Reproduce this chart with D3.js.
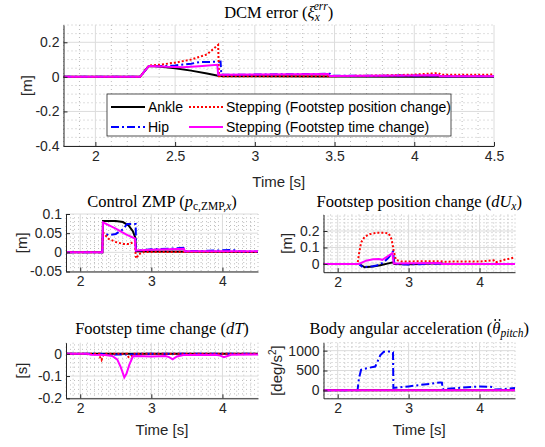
<!DOCTYPE html>
<html>
<head>
<meta charset="utf-8">
<script src="https://cdn.jsdelivr.net/npm/d3@7"></script>
<style>
body { margin: 0; background: #fff; }
svg { display: block; }
</style>
</head>
<body>
<div id="chart"></div>
<script>
// series names (legend)
var seriesNames = ["Ankle", "Hip", "Stepping (Footstep position change)", "Stepping (Footstep time change)"];

// tick values
var timeTicksTop = [2, 2.5, 3, 3.5, 4, 4.5];
var timeTicksSmall = [2, 3, 4];
var dcmTicks = [-0.4, -0.2, 0, 0.2];
var zmpTicks = [-0.05, 0, 0.05, 0.1];
var duTicks = [0, 0.1, 0.2];
var dtTicks = [-0.2, -0.1, 0];
var accTicks = [0, 500, 1000];

// DCM error [m]  ([time, value])
var dcmAnkle = [[1.8,0],[2.28,0],[2.335,0.063],[2.4,0.06],[2.5,0.05],[2.6,0.036],[2.7,0.02],[2.77,0.006],[2.8,0.004],[3.0,0.003],[3.5,0.002],[4.0,0.001],[4.5,0.001]];
var dcmHip = [[1.8,0],[2.28,0],[2.335,0.063],[2.4,0.062],[2.5,0.066],[2.6,0.076],[2.65,0.085],[2.7,0.086],[2.785,0.088],[2.79,0.012],[3.0,0.013],[3.2,0.015],[3.47,0.018],[3.48,0.006],[3.8,0.007],[4.15,0.008],[4.16,0.004],[4.5,0.004]];
var dcmStepPos = [[1.8,0],[2.28,0],[2.335,0.065],[2.4,0.07],[2.5,0.082],[2.6,0.1],[2.7,0.13],[2.77,0.185],[2.775,0.004],[3.0,0.004],[3.5,0.004],[3.8,0.008],[4.0,0.013],[4.15,0.022],[4.17,0.012],[4.5,0.013]];
var dcmStepTime = [[1.8,0],[2.28,0],[2.335,0.063],[2.45,0.058],[2.55,0.056],[2.65,0.062],[2.765,0.07],[2.77,0.012],[3.0,0.014],[3.46,0.017],[3.47,0.005],[4.0,0.008],[4.15,0.01],[4.16,0.004],[4.5,0.004]];

// Control ZMP [m]
var zmpAnkle = [[1.8,0],[2.31,0],[2.32,0.082],[2.5,0.082],[2.6,0.079],[2.68,0.07],[2.74,0.055],[2.775,0.038],[2.785,0.003],[3.0,0.002],[4.5,0.001]];
var zmpHip = [[1.8,0],[2.31,0],[2.32,0.05],[2.4,0.045],[2.5,0.048],[2.6,0.06],[2.66,0.074],[2.78,0.074],[2.785,0.004],[3.0,0.008],[3.3,0.01],[3.45,0.012],[3.47,0.003],[3.8,0.004],[4.1,0.006],[4.2,0.005],[4.25,0.002],[4.5,0.002]];
var zmpStepPos = [[1.8,0],[2.31,0],[2.32,0.052],[2.4,0.035],[2.5,0.027],[2.6,0.022],[2.7,0.022],[2.77,0.03],[2.78,-0.01],[2.79,-0.016],[2.82,-0.005],[2.9,0.001],[4.5,0.001]];
var zmpStepTime = [[1.8,0],[2.31,0],[2.32,0.078],[2.5,0.062],[2.65,0.046],[2.77,0.036],[2.78,0.005],[3.0,0.007],[3.46,0.009],[3.47,0.003],[4.5,0.003]];

// Footstep position change dU_x [m]
var duAnkle = [[1.8,0],[2.3,0],[2.38,-0.02],[2.5,-0.016],[2.6,-0.008],[2.7,0.002],[2.78,0.01],[2.8,0],[3.0,-0.002],[3.45,0.004],[3.5,0],[4.5,0]];
var duHip = [[1.8,0],[2.3,0],[2.35,-0.018],[2.45,-0.017],[2.55,-0.01],[2.65,0.01],[2.72,0.04],[2.78,0.075],[2.8,0],[3.0,-0.003],[3.45,0.003],[3.5,0],[4.5,0]];
var duStepPos = [[1.8,0],[2.28,0],[2.3,0.06],[2.33,0.13],[2.38,0.165],[2.45,0.18],[2.55,0.19],[2.65,0.19],[2.72,0.185],[2.76,0.15],[2.79,0.08],[2.82,0.025],[2.9,0.015],[3.45,0.017],[3.5,0.014],[4.0,0.015],[4.2,0.022],[4.23,0.01],[4.35,0.025],[4.5,0.04]];
var duStepTime = [[1.8,0],[2.3,0],[2.4,0.02],[2.5,0.028],[2.58,0.03],[2.63,0.025],[2.7,0.045],[2.77,0.065],[2.79,0.003],[3.45,0.006],[3.47,0],[4.5,0]];

// Footstep time change dT [s]
var dtAnkle = [[1.8,0],[4.5,0]];
var dtHip = [[1.8,0],[2.3,0],[2.32,-0.003],[2.78,-0.003],[2.8,0],[4.5,0]];
var dtStepPos = [[1.8,0],[2.27,0],[2.28,-0.015],[2.3,-0.028],[2.32,-0.01],[2.34,0],[2.66,0],[2.68,-0.015],[2.72,-0.012],[2.74,0],[4.5,0]];
var dtStepTime = [[1.8,0],[2.1,0],[2.15,-0.004],[2.35,-0.005],[2.45,-0.01],[2.52,-0.025],[2.57,-0.06],[2.62,-0.106],[2.65,-0.09],[2.69,-0.05],[2.74,-0.012],[2.8,-0.01],[3.0,-0.012],[3.2,-0.01],[3.25,-0.015],[3.3,-0.025],[3.36,-0.012],[3.45,-0.005],[3.9,-0.004],[3.97,-0.008],[4.02,-0.015],[4.07,-0.01],[4.12,-0.004],[4.5,-0.003]];

// Body angular acceleration [deg/s^2]
var accAnkle = [[1.8,0],[4.5,0]];
var accHip = [[1.8,0],[2.28,0],[2.3,300],[2.33,520],[2.42,560],[2.53,600],[2.6,880],[2.65,970],[2.75,980],[2.78,960],[2.785,60],[3.0,100],[3.3,165],[3.45,200],[3.47,195],[3.48,30],[3.7,60],[4.0,100],[4.15,90],[4.19,80],[4.21,20],[4.4,40],[4.5,60]];
var accStepPos = [[1.8,0],[4.5,0]];
var accStepTime = [[1.8,0],[4.5,0]];

var styles = [
  {color: "#000000", dash: null},
  {color: "#0000ff", dash: "8,3,2,3"},
  {color: "#ff0000", dash: "2,2"},
  {color: "#ff00ff", dash: null}
];

var axisColor = "#262626";
var sansFont = "'Liberation Sans', Arial, sans-serif";
var serifFont = "'Liberation Serif', 'DejaVu Serif', serif";
var subSize = "11.5px";

var svg = d3.select("#chart").append("svg")
    .attr("width", 545)
    .attr("height", 447);

var clipId = 0;

function drawPanel(p) {
  var x = d3.scaleLinear().domain([1.8, 4.5]).range([p.left, p.right]);
  var y = d3.scaleLinear().domain(p.yDomain).range([p.bottom, p.top]);
  var g = svg.append("g");

  // minor grid
  var xMinor = d3.range(1.8, 4.5001, 0.1).filter(function(v) {
    return p.xTicks.every(function(t) { return Math.abs(t - v) > 1e-6; });
  });
  var yMinor = d3.range(p.yDomain[0], p.yDomain[1] + p.yMinor * 0.01, p.yMinor).filter(function(v) {
    return p.yTicks.every(function(t) { return Math.abs(t - v) > 1e-9 * Math.max(1, Math.abs(t)); });
  });
  g.selectAll(".mx").data(xMinor).enter().append("line")
    .attr("x1", d => x(d)).attr("x2", d => x(d))
    .attr("y1", p.top).attr("y2", p.bottom)
    .attr("stroke", "#bdbdbd").attr("stroke-width", 1).attr("stroke-dasharray", "1,3");
  g.selectAll(".my").data(yMinor).enter().append("line")
    .attr("x1", p.left).attr("x2", p.right)
    .attr("y1", d => y(d)).attr("y2", d => y(d))
    .attr("stroke", "#bdbdbd").attr("stroke-width", 1).attr("stroke-dasharray", "1,3");

  // major grid
  g.selectAll(".gx").data(p.xTicks).enter().append("line")
    .attr("x1", d => x(d)).attr("x2", d => x(d))
    .attr("y1", p.top).attr("y2", p.bottom)
    .attr("stroke", "#dcdcdc").attr("stroke-width", 1);
  g.selectAll(".gy").data(p.yTicks).enter().append("line")
    .attr("x1", p.left).attr("x2", p.right)
    .attr("y1", d => y(d)).attr("y2", d => y(d))
    .attr("stroke", "#dcdcdc").attr("stroke-width", 1);

  // lines
  clipId++;
  svg.append("clipPath").attr("id", "clip" + clipId).append("rect")
    .attr("x", p.left).attr("y", p.top)
    .attr("width", p.right - p.left).attr("height", p.bottom - p.top);
  var line = d3.line().x(d => x(d[0])).y(d => y(d[1]));
  var lg = g.append("g").attr("clip-path", "url(#clip" + clipId + ")");
  p.series.forEach(function(s, i) {
    lg.append("path").datum(s)
      .attr("d", line)
      .attr("fill", "none")
      .attr("stroke", styles[i].color)
      .attr("stroke-width", 2)
      .attr("stroke-dasharray", styles[i].dash);
  });

  // axes
  var xAxis = d3.axisBottom(x).tickValues(p.xTicks).tickSize(-4).tickSizeOuter(0).tickPadding(5)
    .tickFormat(d => String(d));
  var yAxis = d3.axisLeft(y).tickValues(p.yTicks).tickSize(-4).tickSizeOuter(0).tickPadding(4)
    .tickFormat(d => String(d));
  var ax = g.append("g").attr("transform", "translate(0," + p.bottom + ")").call(xAxis);
  var ay = g.append("g").attr("transform", "translate(" + p.left + ",0)").call(yAxis);
  [ax, ay].forEach(function(a) {
    a.select(".domain").attr("stroke", axisColor);
    a.selectAll(".tick line").attr("stroke", axisColor);
    a.selectAll("text").attr("fill", axisColor)
      .style("font-family", sansFont).style("font-size", "14px");
  });

  // y label
  var yl = svg.append("text")
    .attr("transform", "translate(" + p.yLabelX + "," + ((p.top + p.bottom) / 2) + ") rotate(-90)")
    .attr("text-anchor", "middle")
    .attr("fill", axisColor)
    .style("font-family", sansFont).style("font-size", "15px");
  p.yLabel(yl);

  // x label
  if (p.xLabelY) {
    svg.append("text")
      .attr("x", (p.left + p.right) / 2).attr("y", p.xLabelY)
      .attr("text-anchor", "middle")
      .attr("fill", axisColor)
      .style("font-family", sansFont).style("font-size", "15px")
      .text("Time [s]");
  }

  // title
  var t = svg.append("text")
    .attr("x", (p.left + p.right) / 2).attr("y", p.titleY)
    .attr("text-anchor", "middle")
    .attr("fill", "#000")
    .style("font-family", serifFont).style("font-size", "16.5px");
  p.title(t);
}

function part(sel, txt, opts) {
  opts = opts || {};
  var s = sel.append("tspan").text(txt);
  if (opts.italic) s.style("font-style", "italic");
  if (opts.size) s.style("font-size", opts.size);
  if (opts.dy) s.attr("dy", opts.dy);
  return s;
}

// Top: DCM error
drawPanel({
  left: 63.5, right: 494, top: 25, bottom: 146,
  yDomain: [-0.4, 0.3], yTicks: dcmTicks, yMinor: 0.05, xTicks: timeTicksTop,
  series: [dcmAnkle, dcmHip, dcmStepPos, dcmStepTime],
  yLabelX: 32, xLabelY: 187, titleY: 18,
  yLabel: function(t) { t.text("[m]"); },
  title: function(t) {
    part(t, "DCM error (");
    part(t, "ξ", {italic: true});
    part(t, "x", {italic: true, size: subSize, dy: "3"});
    part(t, "err", {italic: true, size: subSize, dy: "-11"}).attr("dx", "-6");
    part(t, ")", {dy: "8"});
  }
});

// Control ZMP
drawPanel({
  left: 66, right: 258, top: 214, bottom: 271.5,
  yDomain: [-0.05, 0.1], yTicks: zmpTicks, yMinor: 0.01, xTicks: timeTicksSmall,
  series: [zmpAnkle, zmpHip, zmpStepPos, zmpStepTime],
  yLabelX: 27, xLabelY: null, titleY: 207,
  yLabel: function(t) { t.text("[m]"); },
  title: function(t) {
    part(t, "Control ZMP (");
    part(t, "p", {italic: true});
    part(t, "c,ZMP,", {size: subSize, dy: "3"});
    part(t, "x", {italic: true, size: subSize});
    part(t, ")", {dy: "-3"});
  }
});

// Footstep position change
drawPanel({
  left: 323.5, right: 515, top: 214.5, bottom: 272.2,
  yDomain: [-0.05, 0.3], yTicks: duTicks, yMinor: 0.02, xTicks: timeTicksSmall,
  series: [duAnkle, duHip, duStepPos, duStepTime],
  yLabelX: 292, xLabelY: null, titleY: 207,
  yLabel: function(t) { t.text("[m]"); },
  title: function(t) {
    part(t, "Footstep position change (");
    part(t, "dU", {italic: true});
    part(t, "x", {italic: true, size: subSize, dy: "3"});
    part(t, ")", {dy: "-3"});
  }
});

// Footstep time change
drawPanel({
  left: 66, right: 258, top: 342.7, bottom: 398.3,
  yDomain: [-0.2, 0.05], yTicks: dtTicks, yMinor: 0.02, xTicks: timeTicksSmall,
  series: [dtAnkle, dtHip, dtStepPos, dtStepTime],
  yLabelX: 27, xLabelY: 435, titleY: 334,
  yLabel: function(t) { t.text("[s]"); },
  title: function(t) {
    part(t, "Footstep time change (");
    part(t, "dT", {italic: true});
    part(t, ")");
  }
});

// Body angular acceleration
drawPanel({
  left: 323.5, right: 515, top: 342.7, bottom: 398.3,
  yDomain: [-200, 1200], yTicks: accTicks, yMinor: 100, xTicks: timeTicksSmall,
  series: [accAnkle, accHip, accStepPos, accStepTime],
  yLabelX: 282, xLabelY: 435, titleY: 334,
  yLabel: function(t) {
    part(t, "[deg/s");
    part(t, "2", {size: "10px", dy: "-6"});
    part(t, "]", {dy: "6"});
  },
  title: function(t) {
    var lead = "Body angular acceleration (";
    part(t, lead);
    part(t, "θ", {italic: true});
    part(t, "pitch", {italic: true, size: subSize, dy: "3"});
    part(t, ")", {dy: "-3"});
    // double dot accent above theta
    var node = t.node();
    var s = node.getStartPositionOfChar(lead.length);
    var e = node.getEndPositionOfChar(lead.length);
    var cx = (s.x + e.x) / 2 + 1;
    [-2.2, 2.2].forEach(function(dx) {
      svg.append("circle")
        .attr("cx", cx + dx).attr("cy", s.y - 14)
        .attr("r", 0.9).attr("fill", "#000");
    });
  }
});

// Legend
var legend = svg.append("g");
legend.append("rect")
  .attr("x", 107).attr("y", 94).attr("width", 344).attr("height", 42)
  .attr("fill", "#fff").attr("stroke", axisColor).attr("stroke-width", 0.8);
var legendPos = [
  {x: 111, y: 107}, {x: 111, y: 127}, {x: 189, y: 107}, {x: 189, y: 127}
];
// order: Ankle, Hip (col 1); StepPos, StepTime (col 2)
seriesNames.forEach(function(name, i) {
  var pos = legendPos[i];
  legend.append("line")
    .attr("x1", pos.x).attr("x2", pos.x + 34)
    .attr("y1", pos.y).attr("y2", pos.y)
    .attr("stroke", styles[i].color).attr("stroke-width", 2)
    .attr("stroke-dasharray", styles[i].dash);
  legend.append("text")
    .attr("x", pos.x + 37).attr("y", pos.y + 5)
    .attr("fill", "#000")
    .style("font-family", sansFont).style("font-size", "14px")
    .text(name);
});
</script>
</body>
</html>
